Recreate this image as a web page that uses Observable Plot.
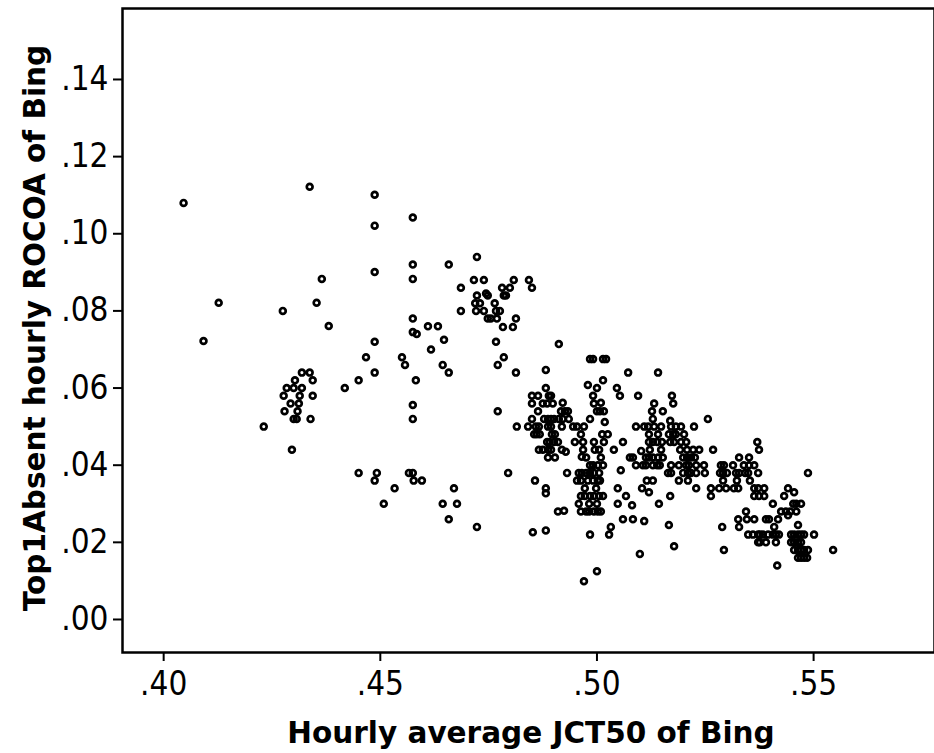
<!DOCTYPE html>
<html>
<head>
<meta charset="utf-8">
<script src="https://cdn.jsdelivr.net/npm/d3@7"></script>
<script src="https://cdn.jsdelivr.net/npm/@observablehq/plot@0.6"></script>
<style>
  html, body { margin: 0; padding: 0; background: #fff; }
  #chart svg g[aria-label$="tick"] { stroke-width: 2; }
</style>
</head>
<body>
<div id="chart"></div>
<script>
// Axis titles and ticks
const xTitle = "Hourly average JCT50 of Bing";
const yTitle = "Top1Absent hourly ROCOA of Bing";
const xTicks = [0.40, 0.45, 0.50, 0.55];
const yTicks = [0.00, 0.02, 0.04, 0.06, 0.08, 0.10, 0.12, 0.14];

// Points: [Hourly average JCT50, Top1Absent hourly ROCOA]
const leftPoints = [
  [.4046,.108],[.4337,.1122],[.4487,.1101],[.4487,.1021],[.4575,.1042],
  [.4575,.092],[.4487,.0901],[.4575,.0883],[.4365,.0883],[.4127,.0821],[.4353,.0821],
  [.4275,.080],[.4381,.0761],[.4575,.078],[.4575,.0745],[.4584,.074],[.4092,.0722],
  [.4487,.072],[.4467,.068],[.4550,.068],[.4557,.066],[.4487,.064],[.4319,.064],[.4337,.064],
  [.4303,.062],[.4344,.062],[.4450,.062],[.4582,.062],[.4284,.060],[.4300,.060],[.4319,.060],
  [.4418,.060],[.4277,.058],[.4314,.058],[.4344,.058],[.4293,.056],[.4312,.056],[.4279,.054],
  [.4309,.054],[.4575,.0556],[.4300,.052],[.4307,.052],[.4339,.052],[.4575,.052],[.4231,.050],
  [.4296,.044],[.4450,.038],[.4492,.038],[.4566,.038],[.4575,.038],[.4487,.036],[.4577,.036],
  [.4596,.036],[.4533,.034],[.4508,.030],[.4670,.034],[.4644,.030],[.4677,.030],[.4658,.026],
  [.4723,.024],[.4610,.076],[.4633,.076],[.4647,.0725],[.4617,.070],[.4644,.066],[.4658,.064]
];

const upperPoints = [
  [.4771,.054],[.4686,.080],[.4767,.072],[.4771,.066],[.4723,.094],[.4658,.092],
  [.4716,.088],[.4739,.088],[.4808,.088],[.4843,.088],[.4686,.086],[.4781,.086],[.4799,.086],
  [.4850,.086],[.4723,.084],[.4744,.0845],[.4748,.084],[.4785,.084],[.4790,.084],[.4719,.082],
  [.4730,.082],[.4764,.082],[.4721,.080],[.4739,.080],[.4767,.080],[.4776,.080],[.4748,.078],
  [.4755,.078],[.4769,.078],[.4813,.078],[.4783,.0758],[.4806,.0758],[.4912,.0714],[.4785,.068],
  [.4813,.064],[.4882,.0647]
];

const midPoints = [
  [.4984,.0675],[.4991,.0675],[.5014,.0675],[.5021,.0675],[.5072,.064],[.5014,.062],[.4979,.0608],
  [.5000,.060],[.5046,.060],[.5053,.058],[.4882,.060],[.4850,.058],[.4864,.058],[.4889,.058],
  [.4894,.058],[.4991,.058],[.4850,.056],[.4875,.056],[.4885,.056],[.4898,.056],[.4921,.0562],
  [.4993,.056],[.5009,.0562],[.4864,.054],[.4917,.054],[.4926,.054],[.4933,.054],[.5000,.054],
  [.5007,.054],[.5016,.054],[.4850,.052],[.4878,.052],[.4887,.052],[.4894,.052],[.4901,.052],
  [.4912,.052],[.4921,.052],[.4935,.052],[.4984,.052],[.5018,.0512],[.4815,.050],[.4841,.050],
  [.4859,.050],[.4866,.050],[.4887,.050],[.4894,.050],[.4919,.050],[.4945,.050],[.4954,.050],
  [.4970,.050],[.4855,.048],[.4861,.048],[.4868,.048],[.4896,.048],[.4903,.048],[.4963,.048],
  [.5012,.048],[.5025,.048],[.4885,.046],[.4891,.046],[.4901,.046],[.4910,.046],[.4949,.046],
  [.4968,.046],[.4993,.046],[.5016,.046],[.5060,.046],[.4866,.044],[.4875,.044],[.4887,.044],
  [.4894,.044],[.4919,.044],[.4928,.0435],[.4968,.044],[.4995,.044],[.5005,.044],[.5039,.044],
  [.5076,.042],[.4887,.042],[.4903,.042],[.4965,.0422],[.4975,.042],[.5009,.042],[.4984,.040],
  [.4991,.040],[.5002,.040],[.5014,.040],[.4931,.038],[.4958,.038],[.4965,.038],[.4975,.038],
  [.4984,.038],[.4993,.038],[.5005,.038],[.5055,.0387],[.4795,.038],[.4857,.036],[.4954,.036],
  [.4963,.036],[.4979,.036],[.4991,.036],[.5002,.036],[.5007,.036],[.4882,.034],[.4882,.0327],
  [.4972,.034],[.4998,.034],[.5048,.034],[.5067,.032],[.4963,.032],[.4972,.032],[.4984,.032],
  [.4993,.032],[.5005,.032],[.5014,.032],[.4958,.030],[.4982,.030],[.5000,.030],[.5048,.030],
  [.4910,.028],[.4924,.0282],[.4963,.028],[.4975,.028],[.4982,.028],[.4993,.028],[.5002,.028],
  [.5009,.028],[.5060,.026],[.4852,.0226],[.4882,.0231],[.4984,.022],[.5028,.022],[.5032,.024],
  [.5000,.0125],[.4970,.0099]
];

const rightMidPoints = [
  [.5141,.064],[.5095,.058],[.5173,.058],[.5176,.056],[.5132,.056],[.5127,.054],[.5152,.054],
  [.5129,.052],[.5169,.0515],[.5090,.050],[.5109,.050],[.5118,.050],[.5132,.050],[.5148,.050],
  [.5171,.050],[.5182,.050],[.5194,.050],[.5224,.050],[.5256,.052],[.5120,.048],[.5141,.048],
  [.5166,.048],[.5176,.048],[.5182,.048],[.5201,.048],[.5120,.046],[.5129,.046],[.5139,.046],
  [.5150,.046],[.5169,.046],[.5178,.046],[.5194,.046],[.5206,.046],[.5122,.044],[.5148,.044],
  [.5192,.044],[.5208,.044],[.5222,.044],[.5236,.044],[.5268,.044],[.5370,.046],[.5374,.044],
  [.5083,.042],[.5102,.0437],[.5113,.042],[.5120,.042],[.5129,.042],[.5141,.042],[.5152,.042],
  [.5199,.042],[.5208,.042],[.5217,.042],[.5226,.042],[.5328,.042],[.5351,.042],[.5090,.040],
  [.5106,.040],[.5113,.040],[.5129,.040],[.5139,.040],[.5145,.040],[.5171,.040],[.5189,.040],
  [.5206,.040],[.5212,.040],[.5229,.040],[.5247,.040],[.5286,.040],[.5293,.040],[.5314,.040],
  [.5339,.040],[.5351,.040],[.5363,.040],[.5164,.038],[.5171,.038],[.5199,.038],[.5210,.038],
  [.5217,.038],[.5229,.038],[.5249,.038],[.5284,.038],[.5291,.038],[.5300,.038],[.5321,.038],
  [.5328,.038],[.5342,.038],[.5349,.038],[.5372,.038],[.5115,.036],[.5129,.036],[.5189,.036],
  [.5210,.036],[.5291,.036],[.5323,.036],[.5353,.036],[.5104,.034],[.5229,.034],[.5263,.034],
  [.5282,.034],[.5298,.034],[.5316,.034],[.5326,.034],[.5363,.034],[.5372,.034],[.5120,.033],
  [.5169,.032],[.5263,.032],[.5363,.032],[.5081,.0296],[.5143,.030],[.5083,.026],[.5109,.0255],
  [.5344,.028],[.5326,.026],[.5346,.026],[.5363,.026],[.5166,.0245],[.5289,.024],[.5328,.024],
  [.5349,.022],[.5360,.022],[.5372,.022],[.5372,.020],[.5178,.019],[.5099,.017],[.5293,.018]
];

const rightPoints = [
  [.5487,.038],[.5386,.034],[.5441,.034],[.5455,.033],[.5374,.032],[.5386,.032],[.5432,.032],
  [.5460,.030],[.5471,.030],[.5406,.030],[.5453,.030],[.5425,.028],[.5436,.028],[.5446,.028],
  [.5460,.028],[.5390,.026],[.5397,.026],[.5418,.026],[.5441,.027],[.5409,.024],[.5464,.0245],
  [.5376,.022],[.5383,.022],[.5395,.022],[.5406,.022],[.5413,.022],[.5420,.022],[.5448,.022],
  [.5455,.022],[.5464,.022],[.5471,.022],[.5478,.022],[.5501,.022],[.5376,.020],[.5390,.020],
  [.5413,.020],[.5448,.020],[.5455,.020],[.5464,.020],[.5471,.020],[.5455,.018],[.5464,.018],
  [.5471,.018],[.5478,.018],[.5487,.018],[.5545,.018],[.5464,.016],[.5471,.016],[.5478,.016],
  [.5485,.016],[.5416,.014]
];

const points = [...leftPoints, ...upperPoints, ...midPoints, ...rightMidPoints, ...rightPoints]
  .map(([jct, rocoa]) => ({jct, rocoa}));

const fmt = d => d3.format(".2f")(d).replace(/^0\./, ".").replace(/^-0\./, "-.");

const W = 934, H = 753, mL = 122, mR = 0, mT = 8, mB = 101;

const plot = Plot.plot({
  width: W,
  height: H,
  marginLeft: mL,
  marginRight: mR,
  marginTop: mT,
  marginBottom: mB,
  style: {
    fontFamily: "'DejaVu Sans Condensed', 'DejaVu Sans', sans-serif",
    fontStretch: "condensed",
    fontSize: "33px",
    color: "black",
    background: "white"
  },
  x: {
    domain: [0.3905, 0.5779],
    ticks: xTicks,
    tickFormat: fmt,
    tickSize: 9,
    tickPadding: 10,
    label: null
  },
  y: {
    domain: [-0.00856, 0.1584],
    ticks: yTicks,
    tickFormat: fmt,
    tickSize: 9,
    tickPadding: 5,
    label: null
  },
  marks: [
    Plot.dot(points, {x: "jct", y: "rocoa", r: 2.9, stroke: "black", strokeWidth: 2.7, fill: "none"}),
    Plot.frame({stroke: "black", strokeWidth: 2.5})
  ]
});

document.getElementById("chart").appendChild(plot);

const svg = d3.select(plot);
svg.append("text")
  .attr("x", 531)
  .attr("y", 743)
  .attr("text-anchor", "middle")
  .style("font-family", "'DejaVu Sans', sans-serif")
  .style("font-stretch", "normal")
  .style("font-weight", "bold")
  .style("font-size", "29.5px")
  .attr("fill", "black")
  .text(xTitle);

svg.append("text")
  .attr("transform", `translate(45,328) rotate(-90)`)
  .attr("text-anchor", "middle")
  .style("font-family", "'DejaVu Sans', sans-serif")
  .style("font-stretch", "normal")
  .style("font-weight", "bold")
  .style("font-size", "29.5px")
  .attr("fill", "black")
  .text(yTitle);
</script>
</body>
</html>
